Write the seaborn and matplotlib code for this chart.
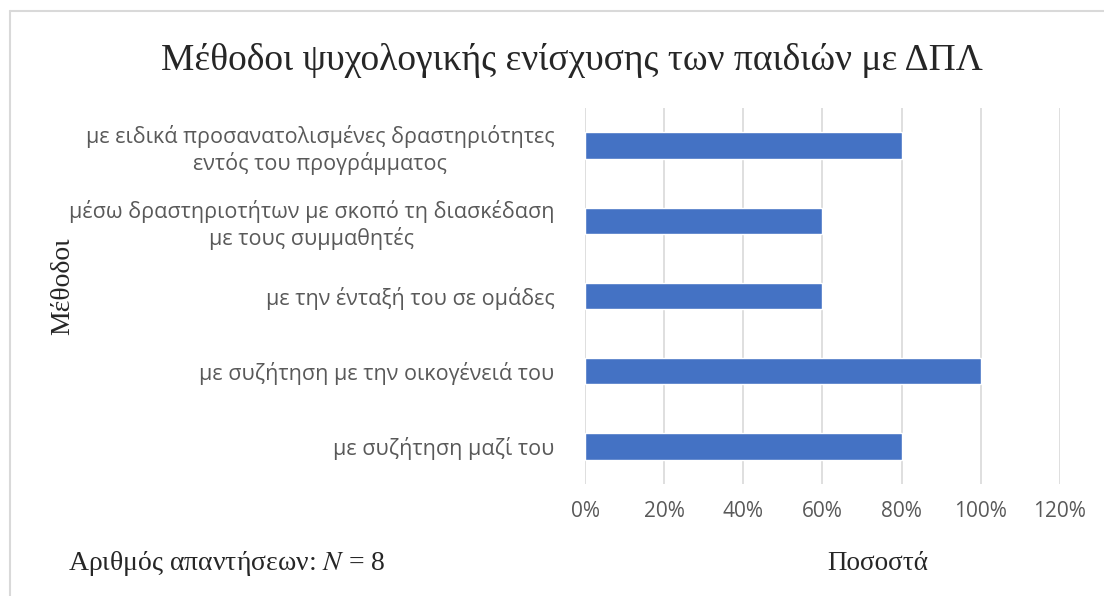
import matplotlib
matplotlib.use("Agg")
import matplotlib.pyplot as plt
import seaborn as sns
import pandas as pd
from matplotlib.lines import Line2D
from matplotlib.ticker import PercentFormatter

# Data (top to bottom as shown)
methods = [
    "με ειδικά προσανατολισμένες δραστηριότητες\nεντός του προγράμματος",
    "μέσω δραστηριοτήτων με σκοπό τη διασκέδαση\nμε τους συμμαθητές",
    "με την ένταξή του σε ομάδες",
    "με συζήτηση με την οικογένειά του",
    "με συζήτηση μαζί του",
]
percent = [80, 60, 60, 100, 80]

df = pd.DataFrame({"Μέθοδοι": methods, "Ποσοστά": percent})

sns.set_style("white")
plt.rcParams["font.family"] = ["Open Sans", "DejaVu Sans"]
plt.rcParams["mathtext.fontset"] = "stix"

fig = plt.figure(figsize=(11.04, 5.96), dpi=100)
ax = fig.add_axes([0.530, 0.188, 0.430, 0.631])

sns.barplot(data=df, y="Μέθοδοι", x="Ποσοστά", color="#4472C4",
            width=0.35, orient="h", ax=ax, saturation=1)

ax.set_xlim(0, 120)
ax.set_xticks(range(0, 121, 20))
ax.xaxis.set_major_formatter(PercentFormatter(decimals=0))
ax.grid(axis="x", color="#D9D9D9", linewidth=1.2)
ax.set_axisbelow(True)
for s in ax.spines.values():
    s.set_visible(False)

ax.tick_params(axis="both", length=0, labelsize=15, labelcolor="#595959")
ax.tick_params(axis="y", labelsize=15.5, pad=22)
ax.tick_params(axis="x", pad=12)
for lbl in ax.get_yticklabels():
    lbl.set_multialignment("center")

ax.set_xlabel("")
ax.set_ylabel("")

serif = ["Liberation Serif", "DejaVu Serif"]
fig.text(0.518, 0.898, "Μέθοδοι ψυχολογικής ενίσχυσης των παιδιών με ΔΠΛ",
         ha="center", va="center", fontsize=27, family=serif)
fig.text(0.057, 0.52, "Μέθοδοι", rotation=90, ha="center", va="center",
         fontsize=20, family=serif)
fig.text(0.795, 0.054, "Ποσοστά", ha="center", va="center",
         fontsize=19.5, family=serif)
fig.text(0.062, 0.054, "Αριθμός απαντήσεων: $N$ = 8", ha="left", va="center",
         fontsize=20, family=serif)

# light frame (top and left edges) around chart area
fx, fy = 10 / 1104, 1 - 11 / 596
fig.lines.append(Line2D([fx, 1], [fy, fy], transform=fig.transFigure,
                        color="#D9D9D9", linewidth=1.5))
fig.lines.append(Line2D([fx, fx], [0, fy], transform=fig.transFigure,
                        color="#D9D9D9", linewidth=1.5))

fig.savefig("out.png", dpi=100)
